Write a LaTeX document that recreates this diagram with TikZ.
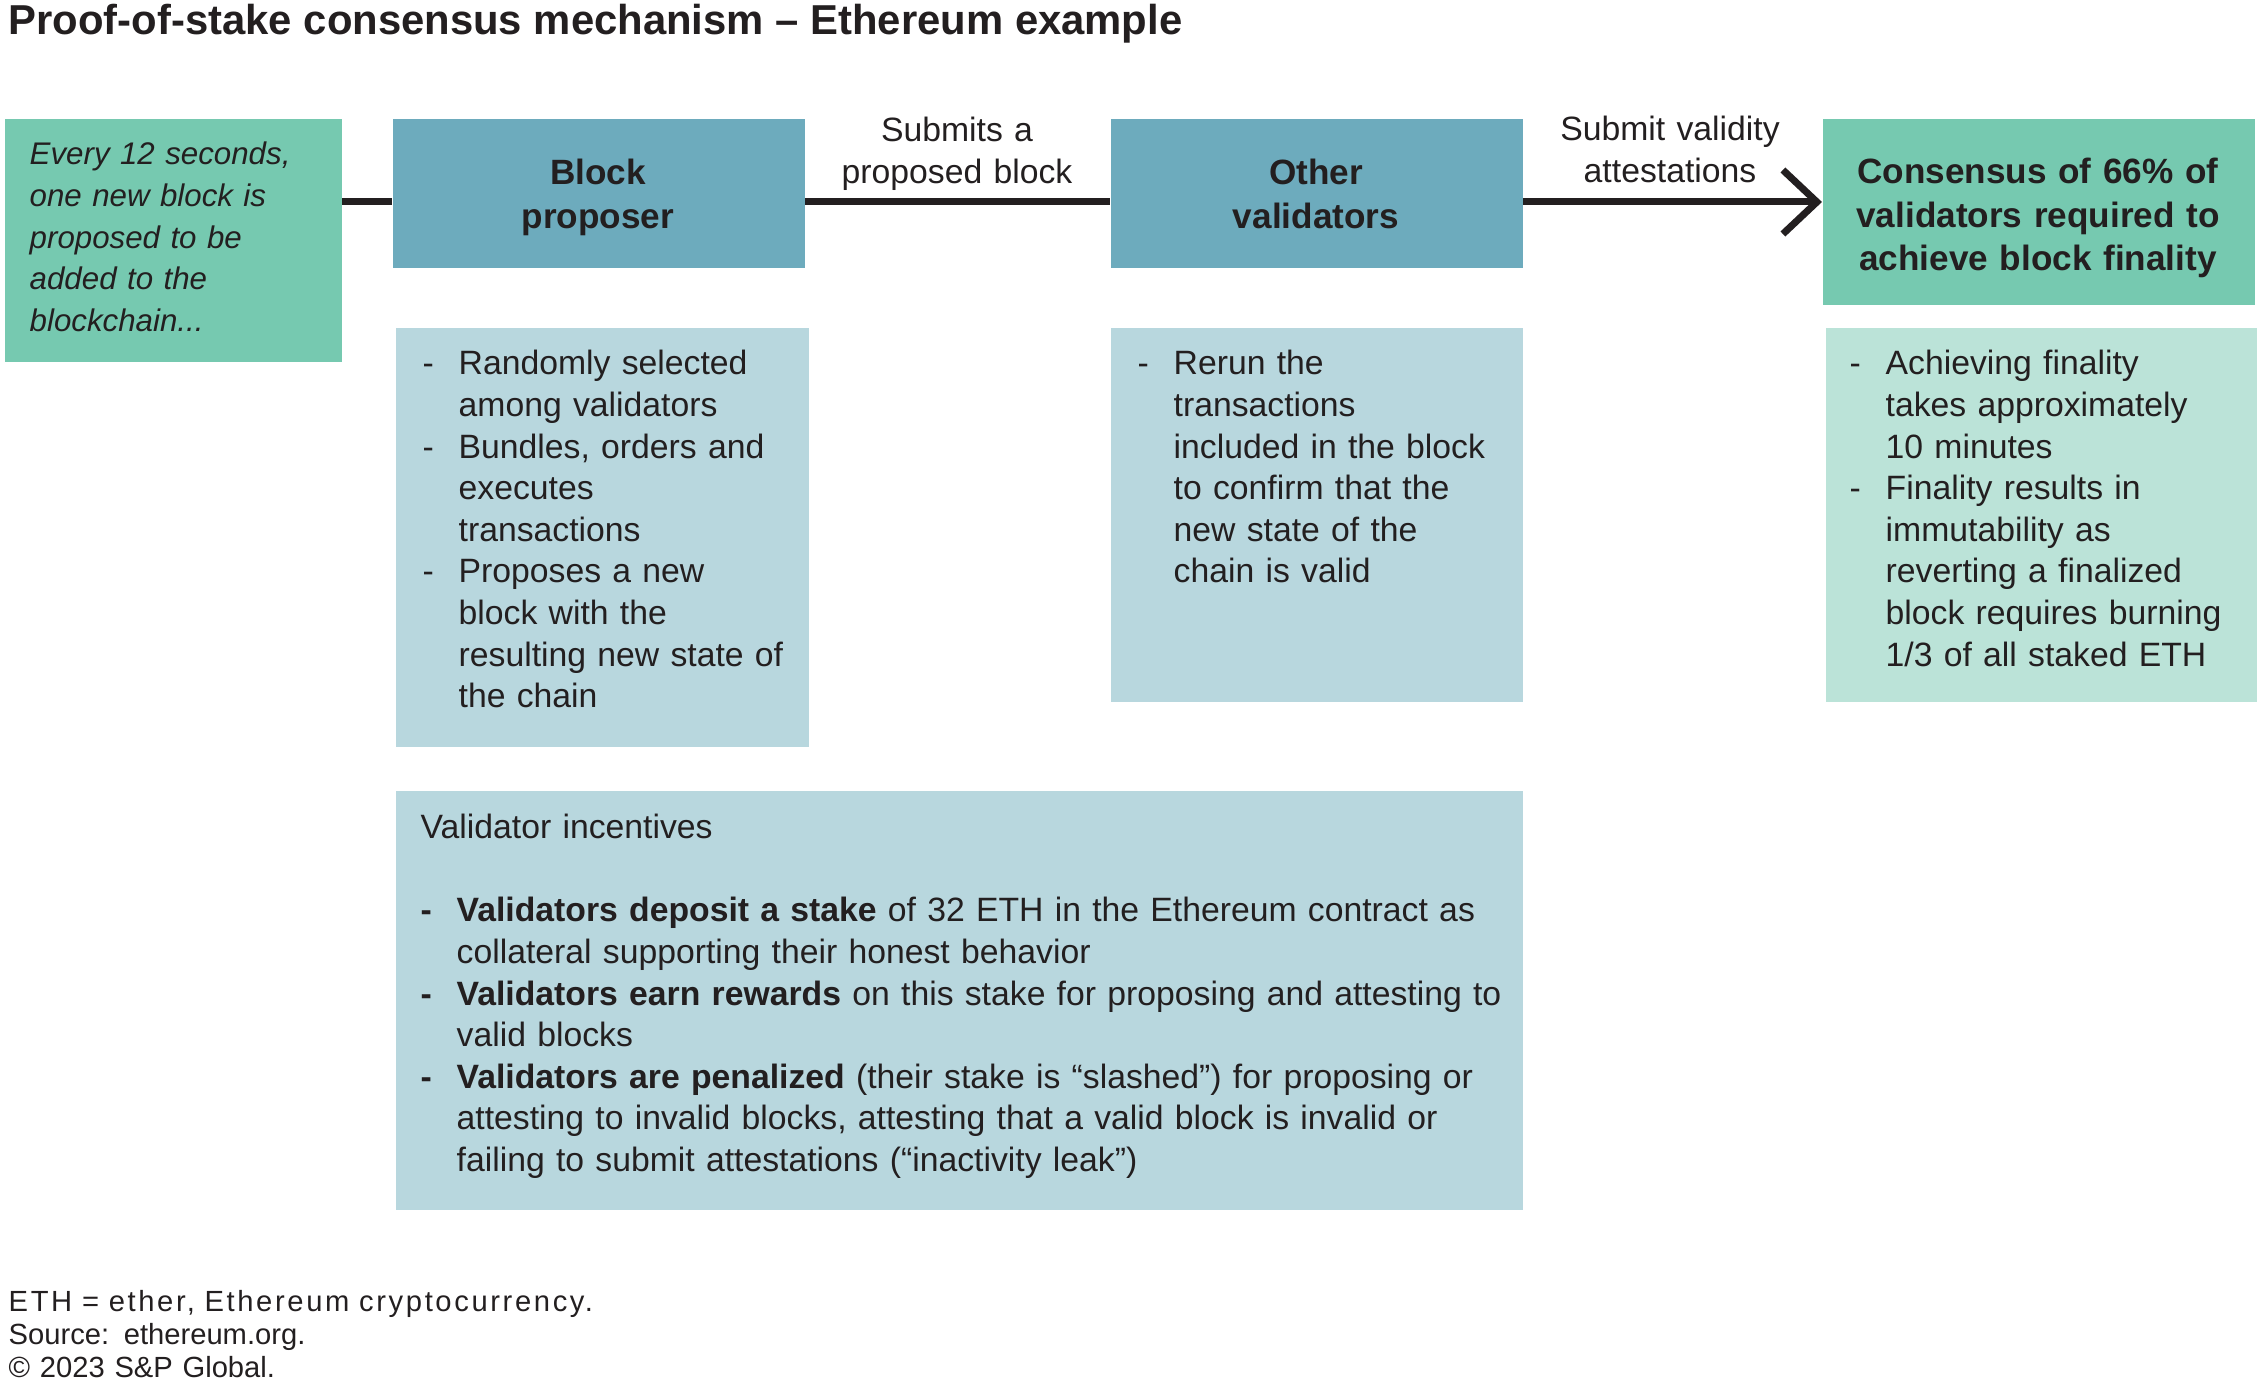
\documentclass[tikz,border=0pt]{standalone}
\usepackage{fontspec}
\setmainfont{Liberation Sans}
\usetikzlibrary{arrows.meta}
\definecolor{seagreen}{RGB}{118,201,176}
\definecolor{steelteal}{RGB}{109,171,189}
\definecolor{paleblue}{RGB}{184,215,222}
\definecolor{palegreen}{RGB}{187,227,216}
\definecolor{ink}{RGB}{35,31,32}
\newcommand{\dashitem}[2][-]{\hangindent=3.6mm\hangafter=1\noindent\makebox[3.6mm][l]{#1}#2\par}
\tikzset{
  box/.style={draw=none, inner sep=0, anchor=north west},
  boxtitle/.style={font=\fontsize{10}{12.33}\selectfont\bfseries, text=ink, text width=42mm, align=center, inner sep=0, anchor=base},
  listtext/.style={font=\fontsize{9.6}{11.83}\selectfont, text=ink, text width=#1, align=left, inner sep=0, anchor=base west},
  edgetext/.style={font=\fontsize{9.6}{11.83}\selectfont, text=ink, text width=30mm, align=center, inner sep=0, anchor=base},
  link/.style={draw=ink, line width=0.7mm},
}

\begin{document}
\begin{tikzpicture}[x=0.1mm, y=-0.1mm]
			%%%%% START %%%%%
			\useasboundingbox (0,0) rectangle (2260,1388);
			
			\node[anchor=base west, inner sep=0, text=ink, font=\fontsize{11.9}{14}\selectfont\bfseries] (title) at (8,35) {Proof-of-stake consensus mechanism -- Ethereum example};
			
			% top row
			\node[box, fill=seagreen, minimum width=33.7mm, minimum height=24.3mm] (start) at (4,118) {};
			\node[box, fill=steelteal, minimum width=41.2mm, minimum height=14.9mm] (bp) at (392,118) {};
			\node[box, fill=steelteal, minimum width=41.2mm, minimum height=14.9mm] (ov) at (1110,118) {};
			\node[box, fill=seagreen, minimum width=43.2mm, minimum height=18.6mm] (cons) at (1822,118) {};
			
			\node[listtext=32mm, font=\fontsize{8.9}{11.83}\selectfont\itshape] (starttext) at (29,165) {Every 12 seconds,\\one new block is\\proposed to be\\added to the\\blockchain...};
			\node[boxtitle] (bptitle) at (598,185) {Block\\proposer};
			\node[boxtitle] (ovtitle) at (1316,185) {Other\\validators};
			\node[boxtitle] (constitle) at (2038,184) {Consensus of 66\% of\\validators required to\\achieve block finality};
			
			\coordinate (lineY) at (0,202);
			\draw[link] (start.east |- lineY) -- (bp.west |- lineY);
			\draw[link] (bp.east |- lineY) -- (ov.west |- lineY);
			\draw[link, -{Straight Barb[length=3.4mm, width=6.4mm]}] (ov.east |- lineY) -- (cons.west |- lineY);
			
			\node[edgetext] (submitlbl) at (957,142) {Submits a\\proposed block};
			\node[edgetext] (attestlbl) at (1670,141) {Submit validity\\attestations};
			
			% lists
			\node[box, fill=paleblue, minimum width=41.3mm, minimum height=41.9mm] (bplist) at (395,327) {};
			\node[box, fill=paleblue, minimum width=41.2mm, minimum height=37.4mm] (ovlist) at (1110,327) {};
			\node[box, fill=palegreen, minimum width=43.1mm, minimum height=37.4mm] (conslist) at (1825,327) {};
			
			\node[listtext=40mm] (bptext) at (422,375) {%
				\dashitem{Randomly selected\newline among validators}%
				\dashitem{Bundles, orders and\newline executes\newline transactions}%
				\dashitem{Proposes a new\newline block with the\newline resulting new state of\newline the chain}};
			\node[listtext=40mm] (ovtext) at (1137,375) {%
				\dashitem{Rerun the\newline transactions\newline included in the block\newline to confirm that the\newline new state of the\newline chain is valid}};
			\node[listtext=42mm] (constext) at (1849,375) {%
				\dashitem{Achieving finality\newline takes approximately\newline 10 minutes}%
				\dashitem{Finality results in\newline immutability as\newline reverting a finalized\newline block requires burning\newline 1/3 of all staked ETH}};
			
			% incentives
			\node[box, fill=paleblue, minimum width=112.7mm, minimum height=41.9mm] (inc) at (395,790) {};
			\node[listtext=100mm] (inchead) at (420,839) {Validator incentives};
			\node[listtext=109mm] (inctext) at (420,922) {%
				\dashitem[\textbf{-}]{\textbf{Validators deposit a stake} of 32 ETH in the Ethereum contract as\newline collateral supporting their honest behavior}%
				\dashitem[\textbf{-}]{\textbf{Validators earn rewards} on this stake for proposing and attesting to\newline valid blocks}%
				\dashitem[\textbf{-}]{\textbf{Validators are penalized} (their stake is “slashed”) for proposing or\newline attesting to invalid blocks, attesting that a valid block is invalid or\newline failing to submit attestations (“inactivity leak”)}};
			
			\node[anchor=base west, inner sep=0, text=ink, text width=80mm, align=left, font=\fontsize{8.3}{9.4}\selectfont] (foot) at (8,1311) {{\addfontfeature{LetterSpace=9}ETH = ether, Ethereum cryptocurrency.}\\Source: ethereum.org.\\© 2023 S\&P Global.};
			
			%%%%% END %%%%%
\end{tikzpicture}
\end{document}
